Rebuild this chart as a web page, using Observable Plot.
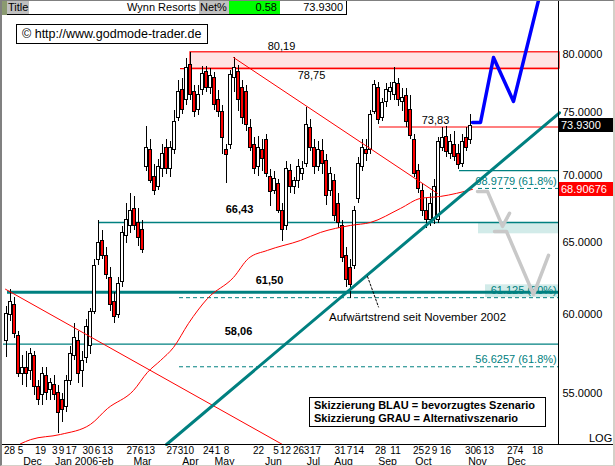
<!DOCTYPE html>
<html><head><meta charset="utf-8">
<script src="https://cdn.jsdelivr.net/npm/d3@7"></script>
<script src="https://cdn.jsdelivr.net/npm/@observablehq/plot@0.6"></script>
<style>
body{margin:0;background:#fff;font-family:"Liberation Sans",Arial,sans-serif;}
#wrap{position:relative;width:615px;height:466px;overflow:hidden;}
.ov{position:absolute;box-sizing:border-box;font-size:11px;line-height:14px;white-space:nowrap;color:#000;}
</style></head><body><div id="wrap"></div>
<script>
// ---- candle data (one candle per ~2 trading days, Nov 2005 – Oct 2006) ----
const opens = [58.25,59.97,60.63,58.56,56.20,56.56,56.38,57.31,55.35,54.87,
56.08,55.17,55.47,54.99,54.58,54.16,55.77,57.31,58.25,56.38,
57.18,57.93,60.17,63.74,65.07,64.02,62.50,60.83,59.97,62.17,
65.42,66.14,67.45,66.36,65.85,70.62,72.01,69.85,69.09,70.46,
72.17,70.46,72.01,74.57,76.90,76.06,79.04,76.73,75.23,76.90,
78.43,77.07,77.91,76.06,75.07,72.01,72.41,77.91,78.43,77.07,
76.73,73.76,72.41,70.62,72.01,72.80,69.85,68.79,69.32,67.31,
66.14,70.31,69.09,69.55,70.08,70.85,73.76,72.17,70.62,71.86,
71.08,68.79,69.55,67.82,66.14,64.02,63.19,63.33,68.19,70.62,
72.01,72.01,75.07,77.07,74.57,75.89,76.73,76.48,77.41,75.89,
76.40,75.23,72.80,70.31,68.79,67.31,66.58,66.72,66.58,72.17,
73.04,71.62,72.41,71.62,70.85,72.96,72.80];
const highs = [60.50,61.69,61.16,58.88,57.31,57.62,57.81,57.62,55.77,56.56,
56.56,55.90,56.08,55.47,54.99,56.08,57.93,59.39,58.88,57.62,
59.65,60.37,63.74,66.58,65.85,64.58,63.19,61.49,62.50,66.14,
67.82,68.57,68.34,67.45,66.58,73.85,72.80,70.85,71.23,72.41,
72.80,72.64,75.23,77.75,77.91,79.65,80.19,77.32,77.32,78.95,
78.95,78.78,78.43,76.90,75.64,72.41,78.60,79.74,79.04,77.75,
77.32,74.41,72.96,73.04,72.80,73.20,70.46,70.31,69.70,67.82,
71.08,70.85,69.85,71.23,71.08,75.48,74.41,72.80,72.64,72.80,
71.62,70.62,70.08,68.57,66.58,64.58,63.74,67.60,71.39,72.80,
72.80,75.23,77.75,77.58,76.23,77.49,77.58,78.87,77.91,77.07,
77.07,76.48,73.20,70.85,69.32,68.19,68.57,69.70,72.96,73.76,
73.85,73.20,73.44,72.41,73.20,73.76,74.82];
const lows = [57.18,59.52,58.43,55.96,55.47,55.35,55.77,54.87,54.28,54.28,
54.58,54.58,54.58,52.60,53.24,53.81,55.47,57.00,55.59,55.35,
56.81,57.43,59.97,63.33,63.74,62.36,60.17,59.39,59.72,61.83,
64.93,65.64,65.85,64.72,64.16,70.31,69.32,68.42,68.79,69.85,
70.08,69.85,71.62,74.25,74.82,75.64,76.06,74.57,74.74,76.48,
76.73,76.56,75.23,74.57,71.62,69.32,72.01,76.73,75.07,74.01,
73.44,71.86,70.08,69.93,70.31,69.85,67.60,68.49,67.09,65.07,
65.85,68.57,68.49,68.94,69.55,70.62,71.86,70.08,70.31,70.08,
67.67,68.34,66.50,66.00,63.53,61.83,61.10,63.05,67.82,70.31,
71.08,71.62,74.82,74.01,74.25,75.40,76.06,76.06,75.56,75.07,
73.76,72.80,69.85,68.57,66.87,66.00,66.14,66.28,66.36,71.86,
71.39,71.23,71.08,70.46,70.62,71.86,72.41];
const closes = [60.04,60.83,58.69,56.20,56.56,56.20,57.43,55.35,54.58,56.20,
54.99,55.59,54.87,53.81,53.99,55.77,57.43,58.43,56.20,57.00,
59.20,60.17,63.33,64.93,64.02,62.70,60.63,59.85,62.03,65.64,
66.58,67.31,66.14,65.28,64.44,72.17,69.55,68.79,70.62,71.62,
70.46,72.17,74.25,76.73,75.23,78.78,76.48,75.07,76.48,78.25,
77.07,78.08,75.64,75.07,72.96,71.55,78.17,78.78,76.06,74.57,
74.01,72.17,70.46,72.17,71.23,70.08,68.72,69.70,67.31,65.85,
70.46,69.09,69.55,70.62,70.46,74.01,72.17,70.62,72.01,70.85,
68.42,70.08,66.87,66.36,63.88,62.36,61.96,67.31,70.85,72.17,
71.62,74.82,77.32,74.41,75.81,76.90,77.07,77.49,76.06,76.23,
74.25,73.12,70.08,68.94,67.31,66.58,67.82,69.09,72.64,72.96,
71.78,72.64,71.39,70.77,72.64,72.17,73.93];

// 200-day moving average (slot, value)
const maSlot  = [3.5,6,13.5,21,25.25,31.75,35.25,38.5,41.75,45.5,50.25,56.75,60.5,65.25,73.5,78.5,86,91,98.5,103.5,108.5,116.5];
const maValue = [52.0,52.24,52.54,53.13,54.07,55.16,56.28,57.02,57.85,59.41,61.07,62.51,63.84,64.41,65.12,65.7,66.21,66.43,67.47,68.22,68.37,68.90676];

// scenarios
const blueSlot = [116.5,118.5,121.75,126.75,133];
const blueValue = [74.2,74.2,79.73,75.95,84.93];
const greyASlot = [117.75,120.25,124,125.75];
const greyAValue = [68.75,68.75,66.14,67.1];
const greyBSlot = [122,125,131.75,135.5];
const greyBValue = [65.77,65.77,61.34,64.05];

// trend lines
const upTrendSlot = [40,138.25], upTrendValue = [51.96,75.0];
const down1Slot = [-0.25,69], down1Value = [61.7,51.96];
const down2Slot = [56.75,107.75], down2Value = [79.73,68.6];
const pointerSlot = [90.25,93], pointerValue = [62.57,60.5];

// horizontal levels
const slotEnd = 138.25;
const zoneLow = 78.75, zoneHigh = 80.19, zoneStart = 46;
const redLevels = [78.75,73.83], redStarts = [43.5,93.25];
const tealLevels = [70.35,66.43,58.06], tealStarts = [113.25,23,-0.75];
const supportLevel = 61.50, supportStart = 0.25;
const fibLevels = [68.9779,61.125,56.6257], fibStarts = [118,43.25,43.25];
const fibLabels = ["68.9779 (61.8%)","61.125 (50%)","56.6257 (61.8%)"];
const bandLows = [65.6,61.125], bandHighs = [66.43,62.0], bandStarts = [118,119.75];

// level annotations
const levelText = ["80,19","78,75","73,83"], levelTextSlot = [68.75,76.25,107.25], levelTextValue = [80.71,78.17,74.33];
const boldText = ["66,43","61,50","58,06"], boldTextSlot = [58.25,65.75,58], boldTextValue = [67.38,62.3,58.88];

// axes
const yTicks = [55,60,65,70,75,80];
const tickPos = [0.75,3.5,8.5,12.1,13.75,16.2,20.4,22.75,25.25,31.4,33.5,35.75,41.4,43.5,45.5,50.5,52.75,55,63,67.4,69.75,73,75,77.25,83.4,85.75,88,93.5,97.25,103,105.25,107,109.75,116,118,120.5,126.5,128.5,132.75];
const tickLabels = ["28","5","19","3","9","17","30","6","13","27","6","13","27","3","10","24","1","8","22","5","12","26","3","17","31","7","14","28","11","25","2","9","16","30","6","13","27","4","18"];
const monthLabels = ["Dec","Feb","Jan 2006","Mar","Apr","May","Jun","Jul","Aug","Sep","Oct","Nov","Dec"];
const monthPos = [6.5,24.5,17.5,34,46,54.5,66.75,76.75,84.25,95.25,104.25,117.75,127.5];

// ---- build tables ----
const candles = opens.map((o,k)=>({slot:k, open:o, high:highs[k], low:lows[k], close:closes[k]}));
const pts = (xs, ys) => xs.map((x,i)=>({x, y:ys[i]}));
const rows = (vals, starts) => vals.map((v,i)=>({value:v, start:starts[i]}));
const xTicks = tickPos.map((p,i)=>({p, t:tickLabels[i]}));
const months = monthLabels.map((t,i)=>({t, s:monthPos[i]}));
const font = '"Liberation Sans", Arial, sans-serif';
const teal = "#008080";

const chart = Plot.plot({
  width:615, height:466, marginLeft:3, marginRight:56, marginTop:16, marginBottom:22,
  style:{fontFamily:font, fontSize:"11px", background:"transparent", overflow:"visible", maxWidth:"none"},
  x:{domain:[-0.75, slotEnd], axis:null},
  y:{type:"log", domain:[51.96, 83.43], axis:null},
  marks:[
    Plot.rect([{x1:zoneStart, x2:slotEnd, y1:zoneLow, y2:zoneHigh}], {x1:"x1", x2:"x2", y1:"y1", y2:"y2", fill:"#ffe4e4", stroke:"#ff0000", strokeWidth:1.2}),
    Plot.rect(bandLows.map((l,i)=>({x1:bandStarts[i], x2:slotEnd, y1:l, y2:bandHighs[i]})), {x1:"x1", x2:"x2", y1:"y1", y2:"y2", fill:"#d2ebe9"}),
    Plot.ruleY(rows(redLevels, redStarts), {y:"value", x1:"start", x2:()=>slotEnd, stroke:"#ff0000", strokeWidth:1.2}),
    Plot.ruleY(rows(tealLevels, tealStarts), {y:"value", x1:"start", x2:()=>slotEnd, stroke:teal, strokeWidth:1.4}),
    Plot.ruleY([{value:supportLevel, start:supportStart}], {y:"value", x1:"start", x2:()=>slotEnd, stroke:teal, strokeWidth:3}),
    Plot.ruleY(rows(fibLevels, fibStarts), {y:"value", x1:"start", x2:()=>slotEnd, stroke:teal, strokeWidth:1, strokeDasharray:"4,3"}),
    Plot.text(fibLevels.map((v,i)=>({v, t:fibLabels[i]})), {x:()=>slotEnd-0.7, y:"v", text:"t", textAnchor:"end", dy:-7, fill:teal, fontSize:11}),
    // candles
    Plot.ruleX(candles, {x:"slot", y1:"low", y2:"high", stroke:"#000", strokeWidth:1, shapeRendering:"crispEdges"}),
    Plot.rect(candles, {x1:d=>d.slot-0.36, x2:d=>d.slot+0.36, y1:"open", y2:"close", fill:d=>d.close>=d.open?"#ffffff":"#ff0000", stroke:"#000", strokeWidth:1, shapeRendering:"crispEdges"}),
    // moving average & trend lines
    Plot.line(pts(maSlot, maValue), {x:"x", y:"y", stroke:"#ff0000", strokeWidth:1, curve:"monotone-x"}),
    Plot.line(pts(down1Slot, down1Value), {x:"x", y:"y", stroke:"#ff0000", strokeWidth:1}),
    Plot.line(pts(down2Slot, down2Value), {x:"x", y:"y", stroke:"#ff0000", strokeWidth:1}),
    Plot.line(pts(upTrendSlot, upTrendValue), {x:"x", y:"y", stroke:teal, strokeWidth:3}),
    Plot.line(pts(pointerSlot, pointerValue), {x:"x", y:"y", stroke:"#000", strokeWidth:1, strokeDasharray:"2,2"}),
    // scenarios
    Plot.line(pts(greyASlot, greyAValue), {x:"x", y:"y", stroke:"#c8c8c8", strokeWidth:3.5}),
    Plot.line(pts(greyBSlot, greyBValue), {x:"x", y:"y", stroke:"#c8c8c8", strokeWidth:3.5}),
    Plot.line(pts(blueSlot, blueValue), {x:"x", y:"y", stroke:"#0000ff", strokeWidth:3.5}),
    // labels
    Plot.text(levelText.map((t,i)=>({t, s:levelTextSlot[i], v:levelTextValue[i]})), {x:"s", y:"v", text:"t", fontSize:11, fill:"#000"}),
    Plot.text(boldText.map((t,i)=>({t, s:boldTextSlot[i], v:boldTextValue[i]})), {x:"s", y:"v", text:"t", fontSize:11, fontWeight:"bold", fill:"#000"}),
    Plot.text([{t:"Aufwärtstrend seit November 2002"}], {x:()=>102.75, y:()=>59.8, text:"t", fontSize:11.5, fill:"#000"}),
    // right value axis (log scale labels)
    Plot.text(yTicks, {y:d=>d, x:()=>slotEnd, dx:3, textAnchor:"start", text:d=>d.toFixed(4), fontSize:11, fill:"#000"}),
    // date axis: day row and month row
    Plot.text(xTicks, {x:"p", y:()=>51.96, text:"t", lineAnchor:"top", dy:2.5, fontSize:10, fill:"#000"}),
    Plot.text(months, {x:"s", y:()=>51.96, text:"t", lineAnchor:"top", dy:13.5, fontSize:10.5, fill:"#000", stroke:"#fff", strokeWidth:3, paintOrder:"stroke"})
  ]
});

const wrap = document.getElementById("wrap");
wrap.appendChild(chart);
const ys = chart.scale("y");
function ov(css, html){ const d=document.createElement("div"); d.className="ov"; d.style.cssText=css; d.innerHTML=html||""; wrap.appendChild(d); return d; }

// frame lines
ov("left:558px;top:0;width:1px;height:445px;background:#000;");
ov("left:0;top:444px;width:615px;height:1px;background:#000;");
// right-axis value boxes
ov(`left:559px;top:${ys.apply(73.93)-7}px;width:55px;height:14px;background:#000;color:#fff;padding-left:2px;line-height:14px;`, "73.9300");
ov(`left:559px;top:${ys.apply(68.90676)-7}px;width:55px;height:14px;background:#ff0000;color:#fff;padding-left:2px;line-height:14px;`, "68.90676");
ov("left:589px;top:431px;", "LOG");
// header strip
ov("left:0;top:0;width:7px;height:15px;background:#8a9a70;");
ov("left:7px;top:0;width:23px;height:15px;background:#c0c0c0;border:1px solid #000;border-left:none;border-top:none;padding-left:1px;", "Title");
ov("left:29px;top:0;width:171px;height:15px;background:#fff;border-bottom:1px solid #000;border-right:1px solid #000;text-align:right;padding-right:3px;", "Wynn Resorts");
ov("left:199px;top:0;width:31px;height:15px;background:#c0c0c0;border-bottom:1px solid #000;border-right:1px solid #000;padding-left:1px;", "Net%");
ov("left:229px;top:0;width:52px;height:15px;background:#00ff00;border-bottom:1px solid #000;border-right:1px solid #000;text-align:right;padding-right:3px;", "0.58");
ov("left:280px;top:0;width:67px;height:15px;background:#fff;border-bottom:1px solid #000;border-right:1px solid #000;text-align:right;padding-right:3px;", "73.9300");
// copyright box
ov("left:16px;top:24px;width:192px;height:20px;background:#fff;border:1px solid #000;font-size:12.5px;line-height:18px;padding-left:5px;", "© http://www.godmode-trader.de");
// legend box
ov("left:309px;top:397px;width:237px;height:30px;background:#fff;border:1px solid #000;font-weight:bold;font-size:11px;line-height:13px;padding:1px 0 0 4px;", "Skizzierung BLAU = bevorzugtes Szenario<br>Skizzierung GRAU = Alternativszenario");
// outer border
ov("left:0;top:0;width:615px;height:466px;border-left:2px solid #808080;border-top:1px solid #808080;border-right:2px solid #d4d0c8;border-bottom:1px solid #d4d0c8;pointer-events:none;");
</script></body></html>
